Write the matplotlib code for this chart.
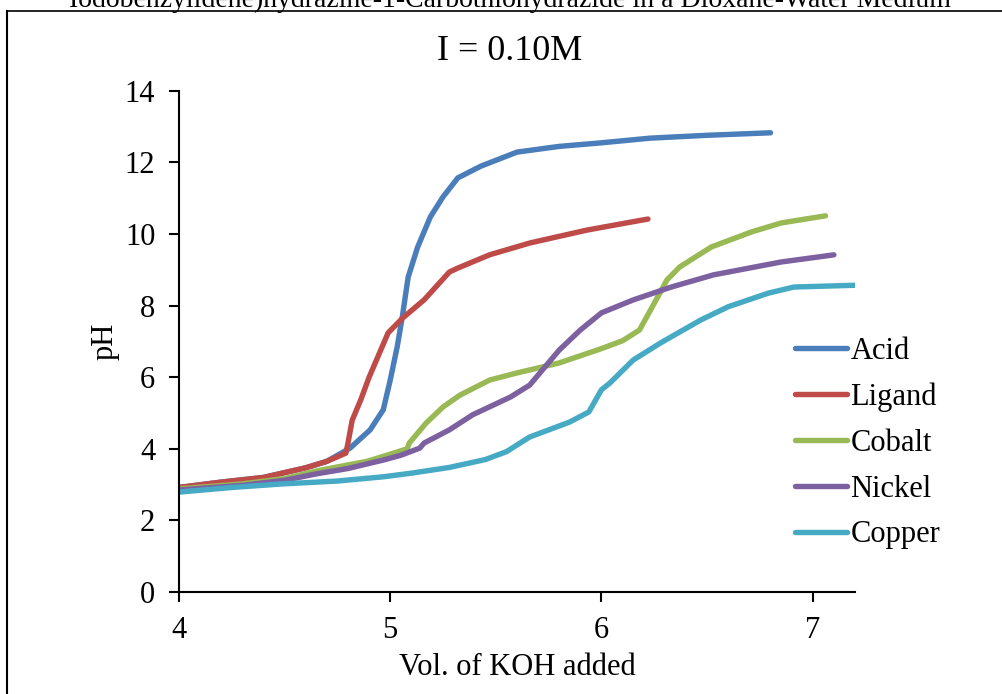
import matplotlib.pyplot as plt
from matplotlib.lines import Line2D

plt.rcParams['font.family'] = ['Liberation Serif', 'DejaVu Serif']

# Vol. of KOH added vs pH
acid_x = [4.0, 4.2, 4.4, 4.6, 4.7, 4.81, 4.905, 4.967, 5.0, 5.033, 5.057, 5.085, 5.13, 5.19,
          5.25, 5.32, 5.43, 5.6, 5.8, 6.0, 6.23, 6.5, 6.8]
acid_y = [2.92, 3.07, 3.2, 3.47, 3.65, 4.02, 4.53, 5.09, 5.92, 6.85, 7.68, 8.8, 9.64, 10.48,
          11.04, 11.57, 11.9, 12.29, 12.45, 12.55, 12.68, 12.76, 12.83]

ligand_x = [4.0, 4.2, 4.4, 4.6, 4.7, 4.79, 4.8, 4.82, 4.86, 4.9, 4.99, 5.06, 5.16, 5.28, 5.32,
            5.47, 5.66, 5.93, 6.06, 6.22]
ligand_y = [2.92, 3.07, 3.2, 3.47, 3.65, 3.88, 4.16, 4.8, 5.36, 6.0, 7.24, 7.66, 8.16, 8.94,
            9.05, 9.42, 9.75, 10.11, 10.25, 10.42]

cobalt_x = [4.0, 4.3, 4.5, 4.65, 4.8, 4.89, 5.0, 5.08, 5.09, 5.17, 5.25, 5.33, 5.47, 5.6,
            5.8, 6.0, 6.1, 6.18, 6.25, 6.31, 6.37, 6.52, 6.71, 6.85, 7.06]
cobalt_y = [2.88, 3.02, 3.17, 3.38, 3.55, 3.65, 3.85, 4.0, 4.16, 4.72, 5.17, 5.5, 5.92, 6.12,
            6.4, 6.8, 7.02, 7.32, 8.07, 8.72, 9.08, 9.64, 10.06, 10.31, 10.51]

nickel_x = [4.0, 4.3, 4.5, 4.65, 4.8, 4.97, 5.05, 5.14, 5.16, 5.28, 5.39, 5.57, 5.66, 5.72,
            5.8, 5.9, 6.0, 6.15, 6.33, 6.53, 6.85, 7.1]
nickel_y = [2.85, 2.98, 3.12, 3.3, 3.45, 3.69, 3.82, 4.02, 4.16, 4.53, 4.95, 5.45, 5.78, 6.2,
            6.76, 7.32, 7.8, 8.16, 8.52, 8.86, 9.22, 9.42]

copper_x = [4.0, 4.25, 4.49, 4.75, 4.97, 5.1, 5.28, 5.45, 5.55, 5.66, 5.85, 5.94, 6.0, 6.04,
            6.15, 6.28, 6.47, 6.6, 6.79, 6.91, 7.2]
copper_y = [2.79, 2.92, 3.02, 3.1, 3.22, 3.32, 3.48, 3.7, 3.92, 4.33, 4.75, 5.03, 5.65, 5.84,
            6.48, 6.96, 7.6, 7.97, 8.35, 8.52, 8.57]

fig = plt.figure(figsize=(10.02, 6.94), dpi=100)
ax = fig.add_axes([0.1786, 0.147, 0.6747, 0.722])

lw = 3.9
ax.plot(acid_x, acid_y, color='#4A7EBB', lw=lw, label='Acid', solid_capstyle='round')
ax.plot(ligand_x, ligand_y, color='#BE4B48', lw=lw, label='Ligand', solid_capstyle='round')
ax.plot(cobalt_x, cobalt_y, color='#98B954', lw=lw, label='Cobalt', solid_capstyle='round')
ax.plot(nickel_x, nickel_y, color='#7D60A0', lw=lw, label='Nickel', solid_capstyle='round')
ax.plot(copper_x, copper_y, color='#46AAC5', lw=lw, label='Copper', solid_capstyle='round')

ax.set_xlim(4, 7.2)
ax.set_ylim(0, 14)
ax.set_xticks([4, 5, 6, 7])
ax.set_yticks(range(0, 15, 2))
ax.spines['top'].set_visible(False)
ax.spines['right'].set_visible(False)
ax.spines['left'].set_linewidth(1.5)
ax.spines['bottom'].set_linewidth(1.5)
ax.tick_params(direction='out', length=7, width=1.5, labelsize=22)
ax.tick_params(axis='x', pad=10)
ax.tick_params(axis='y', pad=10)
ax.set_xlabel('Vol. of KOH added', fontsize=22, labelpad=6)
ax.set_ylabel('pH', fontsize=22, labelpad=4)

fig.text(0.509, 1 - 52 / 694, 'I = 0.10M', fontsize=26, ha='center', va='center')
fig.text(0.509, 1 - 7 / 694, 'Iodobenzylidene)hydrazine-1-Carbothiohydrazide in a Dioxane-Water Medium',
         fontsize=20, ha='center', va='baseline')

fig.legend(loc='center left', bbox_to_anchor=(795 / 1002, 1 - 443 / 694), frameon=False,
           fontsize=22, handlelength=1.7, handletextpad=0.12, labelspacing=0.55,
           borderaxespad=0, borderpad=0)

# frame around the chart
fig.add_artist(Line2D([7 / 1002, 7 / 1002], [0, 1 - 10.5 / 694], color='black', lw=1.5,
                      transform=fig.transFigure))
fig.add_artist(Line2D([7 / 1002, 1], [1 - 10.5 / 694, 1 - 10.5 / 694], color='black', lw=1.2,
                      transform=fig.transFigure))

fig.savefig('out.png', dpi=100)
